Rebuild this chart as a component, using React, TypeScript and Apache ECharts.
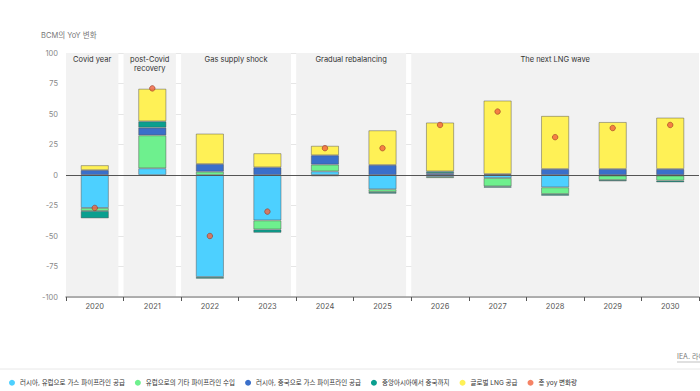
import React, { useEffect, useRef } from 'react';
import * as echarts from 'echarts';

const FONT = 'Inter, "Noto Sans CJK KR", "Noto Sans", sans-serif';

const years = ['2020', '2021', '2022', '2023', '2024', '2025', '2026', '2027', '2028', '2029', '2030'];
const seriesNames = [
  '러시아, 유럽으로 가스 파이프라인 공급',
  '유럽으로의 기타 파이프라인 수입',
  '러시아, 중국으로 가스 파이프라인 공급',
  '중앙아시아에서 중국까지',
  '글로벌 LNG 공급',
  '총 yoy 변화량',
];
const russiaEurope = [-27, 5.5, -83.6, -37.2, 3, -11.7, -1.5, -2.5, -10.1, -0.5, -0.5];
const otherEurope = [-2.5, 27, 2.7, -7.4, 5.5, -2.2, -1, -6.8, -5.5, -3.6, -4.1];
const russiaChina = [4, 6.3, 6.3, 6.3, 7.7, 8.2, 1.5, 0.8, 4.9, 4.9, 4.9];
const centralAsiaChina = [-6, 5.2, -1.4, -2.7, -1, -1.4, 1.5, -1.1, -1.4, -1.1, -1.4];
const globalLng = [4, 26.7, 24.9, 11.5, 7.7, 28.4, 40, 60.2, 43.5, 38.5, 42.1];
const totalChange = [-27, 71, -50, -30, 22, 22, 41, 52, 31, 38.5, 41];

// Period bands
const periodLabels = ['Covid year', 'post-Covid\nrecovery', 'Gas supply shock', 'Gradual rebalancing', 'The next LNG wave'];
const periodStarts = [0, 1, 2, 4, 6];
const periodEnds = [0.91, 1.91, 3.91, 5.91, 11];

const colors = ['#4dd0ff', '#6ef08e', '#3a6fca', '#0a9f8f', '#fff156', '#f2643f'];

export default function App() {
  const ref = useRef<HTMLDivElement>(null);
  useEffect(() => {
    const chart = echarts.init(ref.current!, null, { renderer: 'svg' });
    const barData = [russiaEurope, otherEurope, russiaChina, centralAsiaChina, globalLng];
    const barSeries = barData.map((d, i) => ({
      name: seriesNames[i],
      type: 'bar',
      stack: 'total',
      xAxisIndex: 0,
      yAxisIndex: 0,
      barWidth: 28,
      data: d,
      itemStyle: { color: colors[i], borderColor: 'rgba(70,70,70,0.55)', borderWidth: 0.8 },
      z: 3,
    }));
    const option: any = {
      animation: false,
      textStyle: { fontFamily: FONT },
      title: {
        text: 'BCM의 YoY 변화',
        left: 36,
        top: 27,
        textStyle: { fontSize: 7.5, fontWeight: 'normal', color: '#777', fontFamily: FONT },
      },
      grid: { left: 66, right: 1, top: 53, bottom: 94, containLabel: false },
      legend: {
        data: seriesNames,
        left: 4,
        bottom: 0,
        icon: 'circle',
        itemWidth: 6,
        itemHeight: 6,
        itemGap: 10,
        itemStyle: { borderWidth: 0 },
        textStyle: { fontSize: 6.5, color: '#333', fontFamily: FONT },
      },
      xAxis: [
        {
          type: 'category',
          data: years,
          z: 1,
          axisLine: { show: true, onZero: false, lineStyle: { color: '#999', width: 1.5 } },
          axisTick: { show: true, length: 4, lineStyle: { color: '#555' } },
          axisLabel: { fontSize: 7.5, color: '#555', margin: 6, fontFamily: FONT },
        },
        { type: 'value', min: 0, max: 11, show: false },
      ],
      yAxis: {
        type: 'value',
        min: -100,
        max: 100,
        interval: 25,
        z: 1,
        axisLine: { show: false },
        axisTick: { show: false },
        axisLabel: { fontSize: 7.5, color: '#888', margin: 8, fontFamily: FONT },
        splitLine: { lineStyle: { color: '#e6e6e6', width: 1 } },
      },
      graphic: [
        { type: 'line', shape: { x1: 0, y1: 369, x2: 700, y2: 369 }, style: { stroke: '#e8e8e8', lineWidth: 1 } },
        {
          type: 'text',
          x: 677,
          y: 353,
          style: { text: 'IEA. 라이선스: CC BY 4.0', fontSize: 7, fill: '#777', fontFamily: FONT },
        },
        { type: 'line', shape: { x1: 677, y1: 362, x2: 700, y2: 362 }, style: { stroke: '#999', lineWidth: 0.6 } },
      ],
      series: [
        {
          name: 'bands',
          type: 'scatter',
          xAxisIndex: 1,
          yAxisIndex: 0,
          data: [],
          z: 0,
          silent: true,
          markArea: {
            silent: true,
            itemStyle: { color: '#f2f2f2' },
            label: {
              show: true,
              position: 'insideTop',
              distance: 2,
              fontSize: 7.5,
              lineHeight: 9,
              color: '#333',
              fontFamily: FONT,
            },
            data: periodLabels.map((lab, i) => [
              { name: lab, xAxis: periodStarts[i], yAxis: 100 },
              { xAxis: periodEnds[i], yAxis: -100 },
            ]),
          },
        },
        ...barSeries,
        {
          name: seriesNames[5],
          type: 'scatter',
          xAxisIndex: 0,
          yAxisIndex: 0,
          data: totalChange,
          symbolSize: 5.5,
          z: 6,
          itemStyle: { color: colors[5], borderColor: '#8f3420', borderWidth: 0.7 },
          markLine: {
            silent: true,
            symbol: ['none', 'none'],
            label: { show: false },
            lineStyle: { color: '#555', width: 1, type: 'solid' },
            data: [{ yAxis: 0 }],
          },
        },
      ],
    };
    chart.setOption(option);
    return () => chart.dispose();
  }, []);
  return <div ref={ref} style={{ position: 'absolute', left: 0, top: 0, width: 700, height: 391 }} />;
}
